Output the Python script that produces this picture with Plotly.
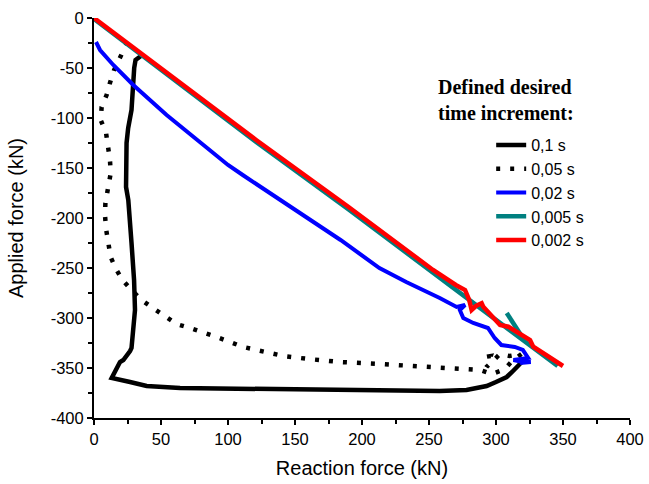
import plotly.graph_objects as go

# ---- data ----
series_names = ["0,1 s", "0,05 s", "0,02 s", "0,005 s", "0,002 s"]

x_01 = [35, 31, 30, 29.3, 28, 25.5, 24.3, 23.9, 25.6, 28, 29.9, 30.6, 29.3, 28, 26.9, 21.9, 19.4, 15.7, 13.2,
        26.9, 39.3, 64.2, 100, 138.8, 200, 238, 258, 278, 293, 300, 308, 312, 317, 320]
y_01 = [-38, -42, -50, -65, -92, -110, -125, -169, -182, -225, -262, -292, -315, -330, -333, -342, -344, -354, -360,
        -364, -368, -370, -370.5, -371.5, -372.5, -373, -373, -372, -368, -364, -359, -354, -347, -343]

x_005 = [25, 22, 19.4, 15, 11.9, 9.4, 5.7, 5, 9, 10.7, 11.9, 12.5, 10.5, 8.5, 8.2, 9, 10.7, 12.4, 16.4, 21.3, 28,
         35.5, 44, 53, 61.5, 71.6, 81.6, 91.5, 101.5, 111.4, 121.4, 131.3, 141.3, 160, 183.6, 213.4, 245.8, 265.7,
         278, 288, 297, 303, 308, 312, 319, 310, 303, 297, 293, 296, 287]
y_005 = [-24, -32, -40, -52, -65, -77, -89, -102, -115, -129, -142, -155, -169, -185, -197, -211, -225, -239, -251,
         -262, -272, -282, -290, -298, -306, -310, -314, -319, -324, -329, -332, -335, -338, -341, -344, -346, -349,
         -350, -351, -352, -356, -353, -349, -343, -336, -338, -336, -344, -349, -338, -340]

x_002 = [1.5, 4.5, 14.4, 29.3, 54.2, 79, 89, 100, 111, 154, 184, 213, 233, 258, 270.6, 276.9, 273, 275.6, 283, 294,
         299, 304, 314, 320, 324, 313, 320, 326, 318]
y_002 = [-24, -32, -47, -67, -97, -124, -136, -147, -157, -195, -222, -250, -264, -280, -289, -287, -292, -300, -305,
         -310, -320, -327, -329, -332, -340, -342, -344, -344, -345]

x_0005 = [0, 60, 121, 190, 253, 262, 270, 280, 290, 300, 310, 320, 330, 346, None, 308, 314, 321]
y_0005 = [-1, -61.5, -124, -191.5, -255, -264, -272, -282, -292, -302, -312, -322, -332, -348, None, -295, -307, -322]

x_0002 = [0, 60, 121, 190, 253, 270, 276.9, 280, 281.8, 285, 289.3, 290.5, 297, 303, 309.2, 318, 325.4, 327.8,
          340, 350]
y_0002 = [0, -60, -122, -189, -252, -267, -272, -282, -292, -288, -285.3, -288.7, -298, -307, -308.7, -316, -322,
          -328.7, -339, -348]

x_ticks = [0, 50, 100, 150, 200, 250, 300, 350, 400]
x_ticklabels = ["0", "50", "100", "150", "200", "250", "300", "350", "400"]
y_ticks = [0, -50, -100, -150, -200, -250, -300, -350, -400]
y_ticklabels = ["0", "-50", "-100", "-150", "-200", "-250", "-300", "-350", "-400"]

legend_title = "Defined desired<br>time increment:"

# ---- figure ----
fig = go.Figure()
styles = [
    dict(color="black", width=4.5, dash="solid"),
    dict(color="black", width=4.5, dash="4px,10px"),
    dict(color="#0000ff", width=4, dash="solid"),
    dict(color="#008080", width=4.5, dash="solid"),
    dict(color="#ff0000", width=4.5, dash="solid"),
]
data = [(x_01, y_01), (x_005, y_005), (x_002, y_002), (x_0005, y_0005), (x_0002, y_0002)]
for (xs, ys), name, st in zip(data, series_names, styles):
    fig.add_trace(go.Scatter(x=xs, y=ys, mode="lines", name=name, line=st, connectgaps=False))

axis_common = dict(
    showline=True, linecolor="black", linewidth=2,
    ticks="outside", ticklen=5, tickwidth=2, tickcolor="black",
    showgrid=False, zeroline=False, automargin=False,
    tickfont=dict(family="Liberation Sans, Arial", size=16.5, color="black"),
    minor=dict(ticks="outside", ticklen=4, tickwidth=1.5, tickcolor="black", dtick=25, showgrid=False),
)

fig.update_layout(
    width=649, height=484,
    margin=dict(l=94, r=19, t=18, b=66),
    paper_bgcolor="white", plot_bgcolor="white",
    font=dict(family="Liberation Sans, Arial", color="black"),
    xaxis=dict(range=[0, 400], tickvals=x_ticks, ticktext=x_ticklabels,
               title=dict(text="Reaction force (kN)", font=dict(size=20), standoff=14), **axis_common),
    yaxis=dict(range=[-400, 0], tickvals=y_ticks, ticktext=y_ticklabels,
               title=dict(text="Applied force (kN)", font=dict(size=20), standoff=22), **axis_common),
    legend=dict(x=0.741, y=0.725, xanchor="left", yanchor="top",
                font=dict(family="Liberation Sans, Arial", size=16, color="black"),
                bgcolor="rgba(0,0,0,0)", tracegroupgap=0),
    annotations=[dict(text="<b>" + legend_title + "</b>", xref="paper", yref="paper",
                      x=0.638, y=0.795, xanchor="left", yanchor="middle", align="left", showarrow=False,
                      font=dict(family="Liberation Serif, Times New Roman", size=20, color="black"))],
)

fig.write_html("out.html")
